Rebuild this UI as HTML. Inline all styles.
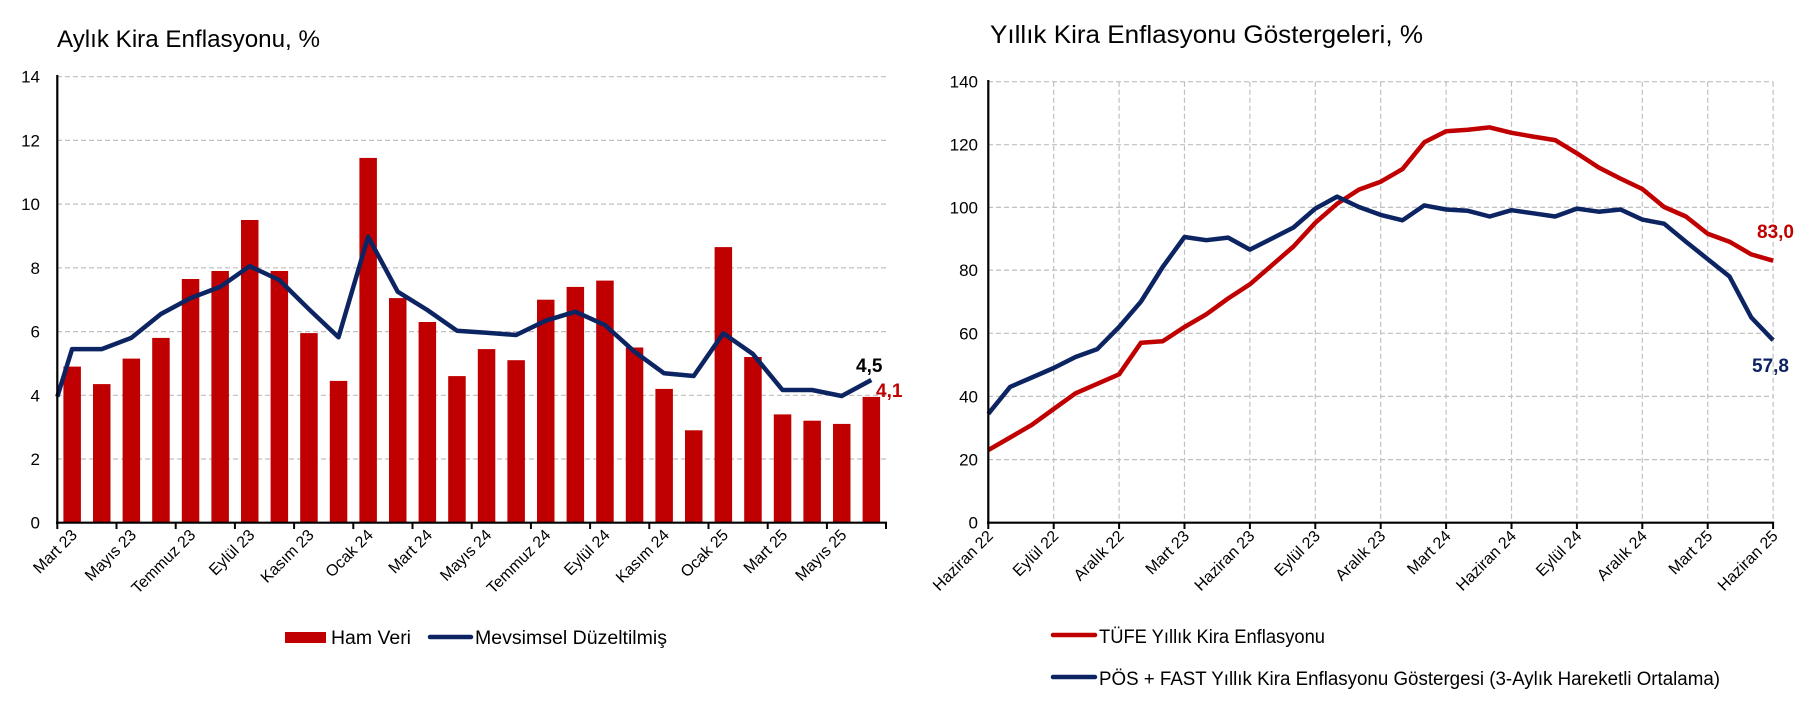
<!DOCTYPE html>
<html><head><meta charset="utf-8"><style>
html,body{margin:0;padding:0;background:#fff;}
svg{display:block;font-family:"Liberation Sans",sans-serif;}
</style></head><body>
<svg width="1806" height="702" viewBox="0 0 1806 702" xmlns="http://www.w3.org/2000/svg">
<rect width="1806" height="702" fill="#fff"/>
<!-- LEFT CHART -->
<text x="57" y="47" font-size="24" textLength="263" lengthAdjust="spacingAndGlyphs">Aylık Kira Enflasyonu, %</text>
<g stroke="#bfbfbf" stroke-width="1.2" stroke-dasharray="5,3">
<line x1="57" y1="76.7" x2="886" y2="76.7"/>
<line x1="57" y1="140.4" x2="886" y2="140.4"/>
<line x1="57" y1="204.1" x2="886" y2="204.1"/>
<line x1="57" y1="267.8" x2="886" y2="267.8"/>
<line x1="57" y1="331.6" x2="886" y2="331.6"/>
<line x1="57" y1="395.3" x2="886" y2="395.3"/>
<line x1="57" y1="459.0" x2="886" y2="459.0"/>
</g>
<g font-size="17" text-anchor="end">
<text x="40" y="528.7">0</text><text x="40" y="465">2</text><text x="40" y="401.3">4</text><text x="40" y="337.6">6</text><text x="40" y="273.8">8</text><text x="40" y="210.1">10</text><text x="40" y="146.4">12</text><text x="40" y="82.7">14</text>
</g>
<g fill="#c00000">
<rect x="63.4" y="366.6" width="17.5" height="156.1"/>
<rect x="93" y="384.1" width="17.5" height="138.6"/>
<rect x="122.6" y="358.6" width="17.5" height="164.1"/>
<rect x="152.2" y="337.9" width="17.5" height="184.8"/>
<rect x="181.8" y="279.0" width="17.5" height="243.7"/>
<rect x="211.4" y="271.0" width="17.5" height="251.7"/>
<rect x="241" y="220.0" width="17.5" height="302.7"/>
<rect x="270.6" y="271.0" width="17.5" height="251.7"/>
<rect x="300.2" y="333.1" width="17.5" height="189.6"/>
<rect x="329.8" y="380.9" width="17.5" height="141.8"/>
<rect x="359.4" y="157.9" width="17.5" height="364.8"/>
<rect x="389" y="298.1" width="17.5" height="224.6"/>
<rect x="418.6" y="322.0" width="17.5" height="200.7"/>
<rect x="448.2" y="376.1" width="17.5" height="146.6"/>
<rect x="477.8" y="349.1" width="17.5" height="173.6"/>
<rect x="507.4" y="360.2" width="17.5" height="162.5"/>
<rect x="537" y="299.7" width="17.5" height="223.0"/>
<rect x="566.6" y="286.9" width="17.5" height="235.8"/>
<rect x="596.2" y="280.6" width="17.5" height="242.1"/>
<rect x="625.8" y="347.5" width="17.5" height="175.2"/>
<rect x="655.4" y="388.9" width="17.5" height="133.8"/>
<rect x="685" y="430.3" width="17.5" height="92.4"/>
<rect x="714.6" y="247.1" width="17.5" height="275.6"/>
<rect x="744.2" y="357.0" width="17.5" height="165.7"/>
<rect x="773.8" y="414.4" width="17.5" height="108.3"/>
<rect x="803.4" y="420.7" width="17.5" height="102.0"/>
<rect x="833" y="423.9" width="17.5" height="98.8"/>
<rect x="862.6" y="396.9" width="17.5" height="125.8"/>
</g>
<polyline fill="none" stroke="#0d2463" stroke-width="4.5" stroke-linejoin="round" points="57.3,396.7 72.1,349.1 101.7,349.1 131.3,337.9 160.9,314 190.5,298.1 220.1,286.9 249.7,266.2 279.3,280 308.9,309.2 338.5,337.3 368.1,236.7 397.7,291.7 427.3,310 456.9,330.7 486.5,332.7 516.1,335 545.7,320.7 575.3,311.7 604.9,325 634.5,351.7 664.1,373.3 693.7,376 723.3,333.3 752.9,354 782.5,390 812.1,390 841.7,396 871.3,380"/>
<line x1="57.3" y1="75" x2="57.3" y2="524" stroke="#000" stroke-width="2.2"/>
<line x1="56" y1="522.7" x2="887" y2="522.7" stroke="#000" stroke-width="2.2"/>
<g stroke="#000" stroke-width="2">
<line x1="57.3" y1="522" x2="57.3" y2="529"/><line x1="116.5" y1="522" x2="116.5" y2="529"/><line x1="175.7" y1="522" x2="175.7" y2="529"/><line x1="234.9" y1="522" x2="234.9" y2="529"/><line x1="294.1" y1="522" x2="294.1" y2="529"/><line x1="353.3" y1="522" x2="353.3" y2="529"/><line x1="412.5" y1="522" x2="412.5" y2="529"/><line x1="471.7" y1="522" x2="471.7" y2="529"/><line x1="530.9" y1="522" x2="530.9" y2="529"/><line x1="590.1" y1="522" x2="590.1" y2="529"/><line x1="649.3" y1="522" x2="649.3" y2="529"/><line x1="708.5" y1="522" x2="708.5" y2="529"/><line x1="767.7" y1="522" x2="767.7" y2="529"/><line x1="826.9" y1="522" x2="826.9" y2="529"/><line x1="886" y1="522" x2="886" y2="529"/>
</g>
<g font-size="16" text-anchor="end">
<text transform="translate(78,536) rotate(-45)">Mart 23</text>
<text transform="translate(137.2,536) rotate(-45)">Mayıs 23</text>
<text transform="translate(196.4,536) rotate(-45)">Temmuz 23</text>
<text transform="translate(255.6,536) rotate(-45)">Eylül 23</text>
<text transform="translate(314.8,536) rotate(-45)">Kasım 23</text>
<text transform="translate(374,536) rotate(-45)">Ocak 24</text>
<text transform="translate(433.2,536) rotate(-45)">Mart 24</text>
<text transform="translate(492.4,536) rotate(-45)">Mayıs 24</text>
<text transform="translate(551.6,536) rotate(-45)">Temmuz 24</text>
<text transform="translate(610.8,536) rotate(-45)">Eylül 24</text>
<text transform="translate(670,536) rotate(-45)">Kasım 24</text>
<text transform="translate(729.2,536) rotate(-45)">Ocak 25</text>
<text transform="translate(788.4,536) rotate(-45)">Mart 25</text>
<text transform="translate(847.6,536) rotate(-45)">Mayıs 25</text>
</g>
<text x="856" y="372" font-size="19" font-weight="bold" fill="#000">4,5</text>
<text x="876" y="397" font-size="19" font-weight="bold" fill="#c00000">4,1</text>
<rect x="285" y="632" width="41" height="11" fill="#c00000"/>
<text x="331" y="644" font-size="19" textLength="80" lengthAdjust="spacingAndGlyphs">Ham Veri</text>
<line x1="430" y1="637" x2="471" y2="637" stroke="#0d2463" stroke-width="4.5" stroke-linecap="round"/>
<text x="475" y="644" font-size="19" textLength="192" lengthAdjust="spacingAndGlyphs">Mevsimsel Düzeltilmiş</text>

<!-- RIGHT CHART -->
<text x="990" y="43" font-size="25" textLength="433" lengthAdjust="spacingAndGlyphs">Yıllık Kira Enflasyonu Göstergeleri, %</text>
<g stroke="#bfbfbf" stroke-width="1.2" stroke-dasharray="5,3">
<line x1="988" y1="81.7" x2="1773" y2="81.7"/>
<line x1="988" y1="144.7" x2="1773" y2="144.7"/>
<line x1="988" y1="207.4" x2="1773" y2="207.4"/>
<line x1="988" y1="270.1" x2="1773" y2="270.1"/>
<line x1="988" y1="333.3" x2="1773" y2="333.3"/>
<line x1="988" y1="396.4" x2="1773" y2="396.4"/>
<line x1="988" y1="459.6" x2="1773" y2="459.6"/>
<line x1="1053.7" y1="81.7" x2="1053.7" y2="522"/>
<line x1="1119.1" y1="81.7" x2="1119.1" y2="522"/>
<line x1="1184.5" y1="81.7" x2="1184.5" y2="522"/>
<line x1="1249.9" y1="81.7" x2="1249.9" y2="522"/>
<line x1="1315.3" y1="81.7" x2="1315.3" y2="522"/>
<line x1="1380.7" y1="81.7" x2="1380.7" y2="522"/>
<line x1="1446.1" y1="81.7" x2="1446.1" y2="522"/>
<line x1="1511.5" y1="81.7" x2="1511.5" y2="522"/>
<line x1="1576.9" y1="81.7" x2="1576.9" y2="522"/>
<line x1="1642.3" y1="81.7" x2="1642.3" y2="522"/>
<line x1="1707.7" y1="81.7" x2="1707.7" y2="522"/>
<line x1="1773.1" y1="81.7" x2="1773.1" y2="522"/>
</g>
<g font-size="17" text-anchor="end">
<text x="978" y="528.7">0</text><text x="978" y="465.6">20</text><text x="978" y="402.4">40</text><text x="978" y="339.3">60</text><text x="978" y="276.1">80</text><text x="978" y="213.4">100</text><text x="978" y="150.7">120</text><text x="978" y="87.7">140</text>
</g>
<polyline fill="none" stroke="#c00000" stroke-width="4.5" stroke-linejoin="round" points="988.3,450.1 1010.1,437.5 1031.9,424.8 1053.7,409 1075.5,393.3 1097.3,383.8 1119.1,374.3 1140.9,342.8 1162.7,341.2 1184.5,327 1206.3,314.3 1228.1,298.5 1249.9,284.3 1271.7,265.4 1293.5,246.5 1315.3,222.8 1337.1,203.8 1358.9,189.6 1380.7,181.7 1402.5,169.1 1424.3,142.3 1446.1,131.2 1467.9,129.7 1489.7,127.4 1511.5,132.8 1533.3,136.6 1555.1,140.1 1576.9,153.3 1598.7,167.5 1620.5,178.6 1642.3,189 1664.1,207 1685.9,216.5 1707.7,233.8 1729.5,241.7 1751.3,254.4 1773.1,260.7"/>
<polyline fill="none" stroke="#0d2463" stroke-width="4.5" stroke-linejoin="round" points="988.3,413.8 1010.1,386.9 1031.9,377.5 1053.7,368 1075.5,357 1097.3,349.1 1119.1,327 1140.9,301.7 1162.7,267 1184.5,237 1206.3,240.2 1228.1,237.6 1249.9,249.6 1271.7,238.6 1293.5,227.5 1315.3,208.6 1337.1,196.6 1358.9,207 1380.7,214.9 1402.5,220.3 1424.3,205.4 1446.1,209.5 1467.9,210.8 1489.7,216.5 1511.5,210.2 1533.3,213.3 1555.1,216.5 1576.9,208.6 1598.7,211.7 1620.5,209.5 1642.3,219.6 1664.1,223.7 1685.9,241.7 1707.7,259.1 1729.5,276.5 1751.3,317.5 1773.1,340.2"/>
<line x1="988.3" y1="80" x2="988.3" y2="524" stroke="#000" stroke-width="2.2"/>
<line x1="987" y1="522.7" x2="1774" y2="522.7" stroke="#000" stroke-width="2.2"/>
<g stroke="#000" stroke-width="2">
<line x1="988.3" y1="522" x2="988.3" y2="529"/><line x1="1053.7" y1="522" x2="1053.7" y2="529"/><line x1="1119.1" y1="522" x2="1119.1" y2="529"/><line x1="1184.5" y1="522" x2="1184.5" y2="529"/><line x1="1249.9" y1="522" x2="1249.9" y2="529"/><line x1="1315.3" y1="522" x2="1315.3" y2="529"/><line x1="1380.7" y1="522" x2="1380.7" y2="529"/><line x1="1446.1" y1="522" x2="1446.1" y2="529"/><line x1="1511.5" y1="522" x2="1511.5" y2="529"/><line x1="1576.9" y1="522" x2="1576.9" y2="529"/><line x1="1642.3" y1="522" x2="1642.3" y2="529"/><line x1="1707.7" y1="522" x2="1707.7" y2="529"/><line x1="1773.1" y1="522" x2="1773.1" y2="529"/>
</g>
<g font-size="16" text-anchor="end">
<text transform="translate(994,537) rotate(-45)">Haziran 22</text>
<text transform="translate(1059.4,537) rotate(-45)">Eylül 22</text>
<text transform="translate(1124.8,537) rotate(-45)">Aralık 22</text>
<text transform="translate(1190.2,537) rotate(-45)">Mart 23</text>
<text transform="translate(1255.6,537) rotate(-45)">Haziran 23</text>
<text transform="translate(1321,537) rotate(-45)">Eylül 23</text>
<text transform="translate(1386.4,537) rotate(-45)">Aralık 23</text>
<text transform="translate(1451.8,537) rotate(-45)">Mart 24</text>
<text transform="translate(1517.2,537) rotate(-45)">Haziran 24</text>
<text transform="translate(1582.6,537) rotate(-45)">Eylül 24</text>
<text transform="translate(1648,537) rotate(-45)">Aralık 24</text>
<text transform="translate(1713.4,537) rotate(-45)">Mart 25</text>
<text transform="translate(1778.8,537) rotate(-45)">Haziran 25</text>
</g>
<text x="1757" y="238" font-size="19" font-weight="bold" fill="#c00000">83,0</text>
<text x="1752" y="372" font-size="19" font-weight="bold" fill="#0d2463">57,8</text>
<line x1="1053" y1="635" x2="1095" y2="635" stroke="#c00000" stroke-width="4.5" stroke-linecap="round"/>
<text x="1099" y="643" font-size="19" textLength="226" lengthAdjust="spacingAndGlyphs">TÜFE Yıllık Kira Enflasyonu</text>
<line x1="1053" y1="677" x2="1095" y2="677" stroke="#0d2463" stroke-width="4.5" stroke-linecap="round"/>
<text x="1099" y="685" font-size="19" textLength="621" lengthAdjust="spacingAndGlyphs">PÖS + FAST Yıllık Kira Enflasyonu Göstergesi (3-Aylık Hareketli Ortalama)</text>
</svg>
</body></html>
